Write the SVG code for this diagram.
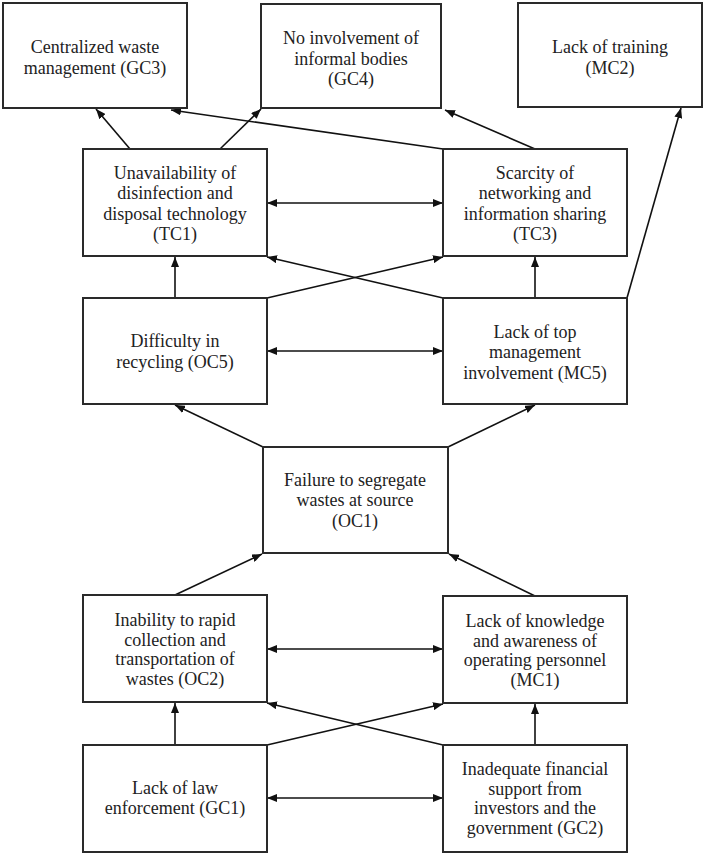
<svg xmlns="http://www.w3.org/2000/svg" width="705" height="854" viewBox="0 0 705 854">
<style>
.box{fill:#fff;stroke:#2a2a2a;stroke-width:2}
.lbl{font-family:"Liberation Serif","Times New Roman",serif;font-size:18px;fill:#222;text-anchor:middle}
.c{stroke:#111;stroke-width:1.6;fill:none;marker-end:url(#ah)}
.d{marker-start:url(#ah)}
</style>
<defs>
<marker id="ah" viewBox="0 0 10 8" refX="10" refY="4" markerWidth="10" markerHeight="8" markerUnits="userSpaceOnUse" orient="auto-start-reverse">
<path d="M0,0 L10,4 L0,8 z" fill="#111"/>
</marker>
</defs>
<rect width="705" height="854" fill="#fff"/>
<g id="connectors">
<line class="c" x1="130" y1="149" x2="96" y2="109"/>
<line class="c" x1="220" y1="149" x2="261" y2="109"/>
<line class="c" x1="443" y1="149" x2="171" y2="110"/>
<line class="c" x1="535" y1="149" x2="445" y2="110"/>
<line class="c" x1="627" y1="298" x2="681" y2="108"/>
<line class="c d" x1="267" y1="203" x2="443" y2="203"/>
<line class="c" x1="175" y1="298" x2="175" y2="257"/>
<line class="c" x1="535" y1="298" x2="535" y2="257"/>
<line class="c" x1="267" y1="298" x2="443" y2="257"/>
<line class="c" x1="443" y1="298" x2="267" y2="257"/>
<line class="c d" x1="267" y1="351" x2="443" y2="351"/>
<line class="c" x1="263" y1="447" x2="175" y2="405"/>
<line class="c" x1="448" y1="447" x2="535" y2="405"/>
<line class="c" x1="175" y1="595" x2="262" y2="554"/>
<line class="c" x1="535" y1="596" x2="449" y2="554"/>
<line class="c d" x1="267" y1="649" x2="443" y2="649"/>
<line class="c" x1="175" y1="745" x2="175" y2="703"/>
<line class="c" x1="535" y1="745" x2="535" y2="704"/>
<line class="c" x1="267" y1="745" x2="443" y2="704"/>
<line class="c" x1="443" y1="745" x2="267" y2="703"/>
<line class="c d" x1="267" y1="798" x2="443" y2="798"/>
</g>
<g id="GC3"><rect class="box" x="3" y="3" width="184" height="105"/>
<text class="lbl" x="95" y="53">Centralized waste<tspan x="95" dy="20.5">management (GC3)</tspan></text></g>
<g id="GC4"><rect class="box" x="261" y="4" width="180" height="104"/>
<text class="lbl" x="351" y="44">No involvement of<tspan x="351" dy="20.5">informal bodies</tspan><tspan x="351" dy="20.5">(GC4)</tspan></text></g>
<g id="MC2"><rect class="box" x="518" y="3" width="184" height="104"/>
<text class="lbl" x="610" y="53">Lack of training<tspan x="610" dy="20.5">(MC2)</tspan></text></g>
<g id="TC1"><rect class="box" x="83" y="149" width="184" height="107"/>
<text class="lbl" x="175" y="179">Unavailability  of<tspan x="175" dy="20.3">disinfection and</tspan><tspan x="175" dy="20.3">disposal technology</tspan><tspan x="175" dy="20.3">(TC1)</tspan></text></g>
<g id="TC3"><rect class="box" x="443" y="149" width="184" height="107"/>
<text class="lbl" x="535" y="179">Scarcity of<tspan x="535" dy="20.3">networking and</tspan><tspan x="535" dy="20.3">information sharing</tspan><tspan x="535" dy="20.3">(TC3)</tspan></text></g>
<g id="OC5"><rect class="box" x="83" y="298" width="184" height="106"/>
<text class="lbl" x="175" y="347">Difficulty  in<tspan x="175" dy="21">recycling (OC5)</tspan></text></g>
<g id="MC5"><rect class="box" x="443" y="298" width="184" height="106"/>
<text class="lbl" x="535" y="338">Lack of top<tspan x="535" dy="20.3">management</tspan><tspan x="535" dy="20.3">involvement (MC5)</tspan></text></g>
<g id="OC1"><rect class="box" x="263" y="447" width="185" height="106"/>
<text class="lbl" x="355" y="486">Failure to segregate<tspan x="355" dy="20.3">wastes at source</tspan><tspan x="355" dy="20.3">(OC1)</tspan></text></g>
<g id="OC2"><rect class="box" x="83" y="595" width="184" height="107"/>
<text class="lbl" x="175" y="626">Inability  to rapid<tspan x="175" dy="19.5">collection  and</tspan><tspan x="175" dy="19.5">transportation of</tspan><tspan x="175" dy="19.5">wastes (OC2)</tspan></text></g>
<g id="MC1"><rect class="box" x="443" y="596" width="184" height="107"/>
<text class="lbl" x="535" y="627">Lack of knowledge<tspan x="535" dy="19.5">and awareness of</tspan><tspan x="535" dy="19.5">operating personnel</tspan><tspan x="535" dy="19.5">(MC1)</tspan></text></g>
<g id="GC1"><rect class="box" x="83" y="745" width="184" height="107"/>
<text class="lbl" x="175" y="794">Lack of law<tspan x="175" dy="20">enforcement (GC1)</tspan></text></g>
<g id="GC2"><rect class="box" x="443" y="745" width="184" height="107"/>
<text class="lbl" x="535" y="775">Inadequate financial<tspan x="535" dy="19.7">support from</tspan><tspan x="535" dy="19.7">investors and the</tspan><tspan x="535" dy="19.7">government (GC2)</tspan></text></g>
</svg>
